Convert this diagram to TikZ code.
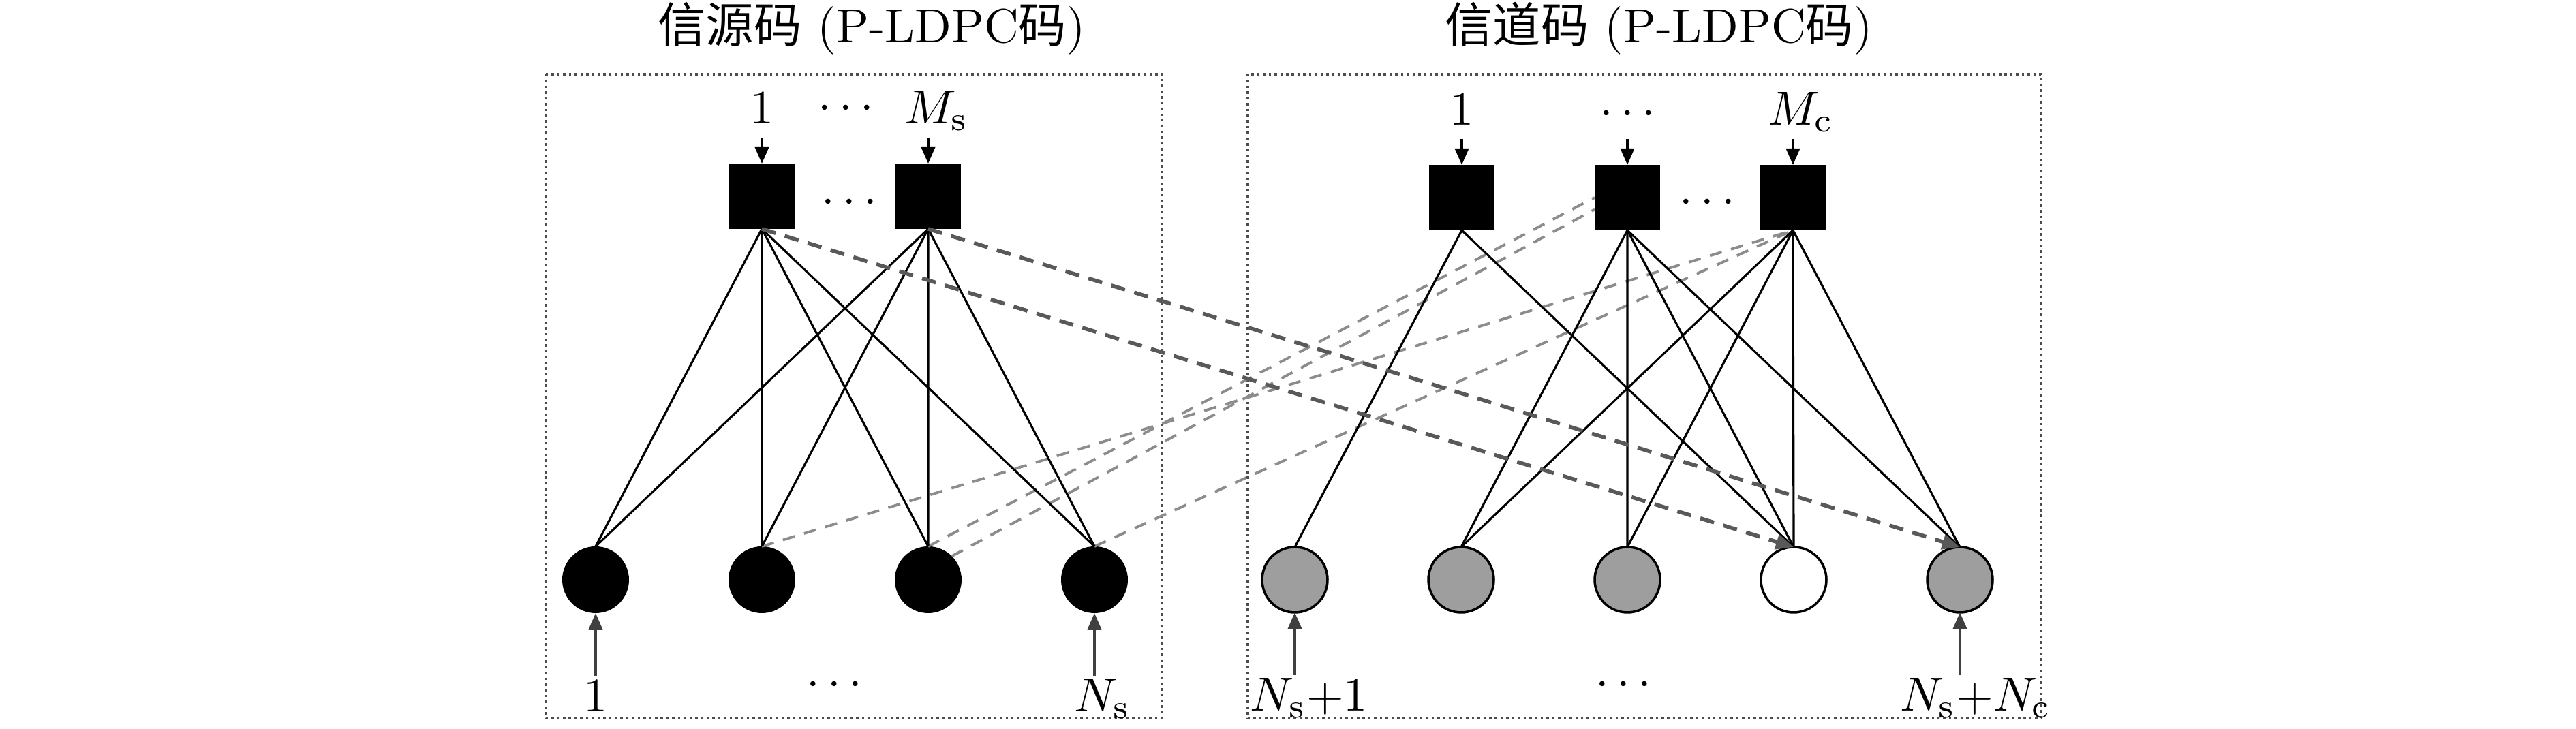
\documentclass[tikz,border=0pt]{standalone}
\usepackage{fontspec}
\newfontfamily\cjk{Noto Sans CJK SC}
\usepackage{tikz}
\usetikzlibrary{positioning,arrows.meta,calc}
\usepackage{xcolor}

\begin{document}
\begin{tikzpicture}[
            node distance=0.4cm and 0.5cm,
            every node/.style={font=\fontsize{10}{12}\selectfont},
            chk/.style={rectangle, fill=black, minimum size=0.48cm, inner sep=0pt, outer sep=0pt},
            srcvar/.style={circle, fill=black, minimum size=0.49cm, inner sep=0pt, outer sep=0pt},
            chvar/.style={circle, draw=black, line width=0.5pt, fill=black!38, minimum size=0.48cm, inner sep=0pt, outer sep=0pt},
            lbl/.style={inner xsep=0pt, inner ysep=0.8pt, text height=1.5ex, text depth=0.45ex},
            frame/.style={draw=black!70, line width=0.5pt, dash pattern=on 0.5pt off 0.7pt},
            link/.style={line width=0.45pt, black},
            arrow/.style={-{Triangle[length=1.2mm, width=1mm]}, line width=0.5pt, black},
            crossdn/.style={-{Triangle[length=1.3mm, width=1.1mm]}, line width=0.8pt, black!65, dash pattern=on 3pt off 2pt},
            crossup/.style={line width=0.55pt, black!45, dash pattern=on 2.6pt off 2pt}
        ]
            \useasboundingbox (0,0) rectangle (18.9,-5.35);

            % Frames and titles
            \draw[frame] (4.005,-0.545) rectangle (8.525,-5.27);
            \draw[frame] (9.155,-0.545) rectangle (14.975,-5.27);
            \node (tsrc) at (6.395,-0.21) {{\cjk 信源码} (P-LDPC{\cjk 码})};
            \node (tch) at (12.17,-0.21) {{\cjk 信道码} (P-LDPC{\cjk 码})};

            % Source code - check nodes
            \node[chk] (cs1) at (5.59,-1.44) {};
            \node[chk, right=0.74cm of cs1] (cs2) {};
            \node at ($(cs1)!0.5!(cs2)+(0.03,-0.05)$) (ds) {$\cdots$};

            % Source code - variable nodes
            \node[srcvar] (vs1) at (4.37,-4.255) {};
            \node[srcvar, right=0.73cm of vs1] (vs2) {};
            \node[srcvar, right=0.73cm of vs2] (vs3) {};
            \node[srcvar, right=0.73cm of vs3] (vs4) {};

            % Channel code - check nodes
            \node[chk] (cc1) at (10.725,-1.45) {};
            \node[chk, right=0.735cm of cc1] (cc2) {};
            \node[chk, right=0.735cm of cc2] (cc3) {};
            \node at ($(cc2)!0.5!(cc3)+(-0.02,-0.04)$) (dc) {$\cdots$};

            % Channel code - variable nodes
            \node[chvar] (vc1) at (9.5,-4.255) {};
            \node[chvar, right=0.74cm of vc1] (vc2) {};
            \node[chvar, right=0.74cm of vc2] (vc3) {};
            \node[chvar, fill=white, right=0.74cm of vc3] (vc4) {};
            \node[chvar, right=0.74cm of vc4] (vc5) {};

            % Labels
            \node[lbl, above=0.19cm of cs1] (ts1) {$1$};
            \node[lbl, above=0.19cm of cs2, xshift=0.06cm] (ts2) {$M_\mathrm{s}$};
            \node[lbl] (tsd) at (6.205,-0.8) {$\cdots$};
            \node[lbl, above=0.19cm of cc1] (tc1) {$1$};
            \node[lbl, above=0.19cm of cc2] (tc2) {$\cdots$};
            \node[lbl, above=0.19cm of cc3, xshift=0.06cm] (tc3) {$M_\mathrm{c}$};
            \node[lbl, below=0.46cm of vs1] (bs1) {$1$};
            \node[lbl] (bsd) at (6.12,-5.03) {$\cdots$};
            \node[lbl, below=0.46cm of vs4, xshift=0.06cm] (bs4) {$N_\mathrm{s}$};
            \node[lbl, below=0.46cm of vc1, xshift=0.105cm] (bc1) {$N_\mathrm{s}{+}1$};
            \node[lbl] (bcd) at (11.91,-5.03) {$\cdots$};
            \node[lbl, below=0.46cm of vc5, xshift=0.115cm] (bc5) {$N_\mathrm{s}{+}N_\mathrm{c}$};

            % Input arrows
            \draw[arrow] (ts1.south -| cs1) -- (cs1.north);
            \draw[arrow] (ts2.south -| cs2) -- (cs2.north);
            \draw[arrow] (tc1.south -| cc1) -- (cc1.north);
            \draw[arrow] (tc2.south -| cc2) -- (cc2.north);
            \draw[arrow] (tc3.south -| cc3) -- (cc3.north);
            \draw[arrow, black!75] (bs1.north -| vs1) -- (vs1.south);
            \draw[arrow, black!75] (bs4.north -| vs4) -- (vs4.south);
            \draw[arrow, black!75] (bc1.north -| vc1) -- (vc1.south);
            \draw[arrow, black!75] (bc5.north -| vc5) -- (vc5.south);

            % Light dashed links to channel checks
            \draw[crossup] (vs2.north) -- (cc3.south);
            \draw[crossup] (vs3.north) -- (cc2.west);
            \draw[crossup] (vs3.45) -- (cc2.200);
            \draw[crossup] (vs4.north) -- (cc3.south);

            % Source code edges
            \draw[link] (cs1.south) -- (vs1.north);
            \draw[link] (cs1.south) -- (vs2.north);
            \draw[link] (cs1.south) -- (vs3.north);
            \draw[link] (cs1.south) -- (vs4.north);
            \draw[link] (cs2.south) -- (vs1.north);
            \draw[link] (cs2.south) -- (vs2.north);
            \draw[link] (cs2.south) -- (vs3.north);
            \draw[link] (cs2.south) -- (vs4.north);

            % Channel code edges
            \draw[link] (cc1.south) -- (vc1.north);
            \draw[link] (cc1.south) -- (vc4.north);
            \draw[link] (cc2.south) -- (vc2.north);
            \draw[link] (cc2.south) -- (vc3.north);
            \draw[link] (cc2.south) -- (vc4.north);
            \draw[link] (cc2.south) -- (vc5.north);
            \draw[link] (cc3.south) -- (vc2.north);
            \draw[link] (cc3.south) -- (vc3.north);
            \draw[link] (cc3.south) -- (vc4.north);
            \draw[link] (cc3.south) -- (vc5.north);

            % Dark dashed links from source checks
            \draw[crossdn] (cs1.south) -- (vc4.north);
            \draw[crossdn] (cs2.south) -- (vc5.north);

        \end{tikzpicture}
\end{document}
